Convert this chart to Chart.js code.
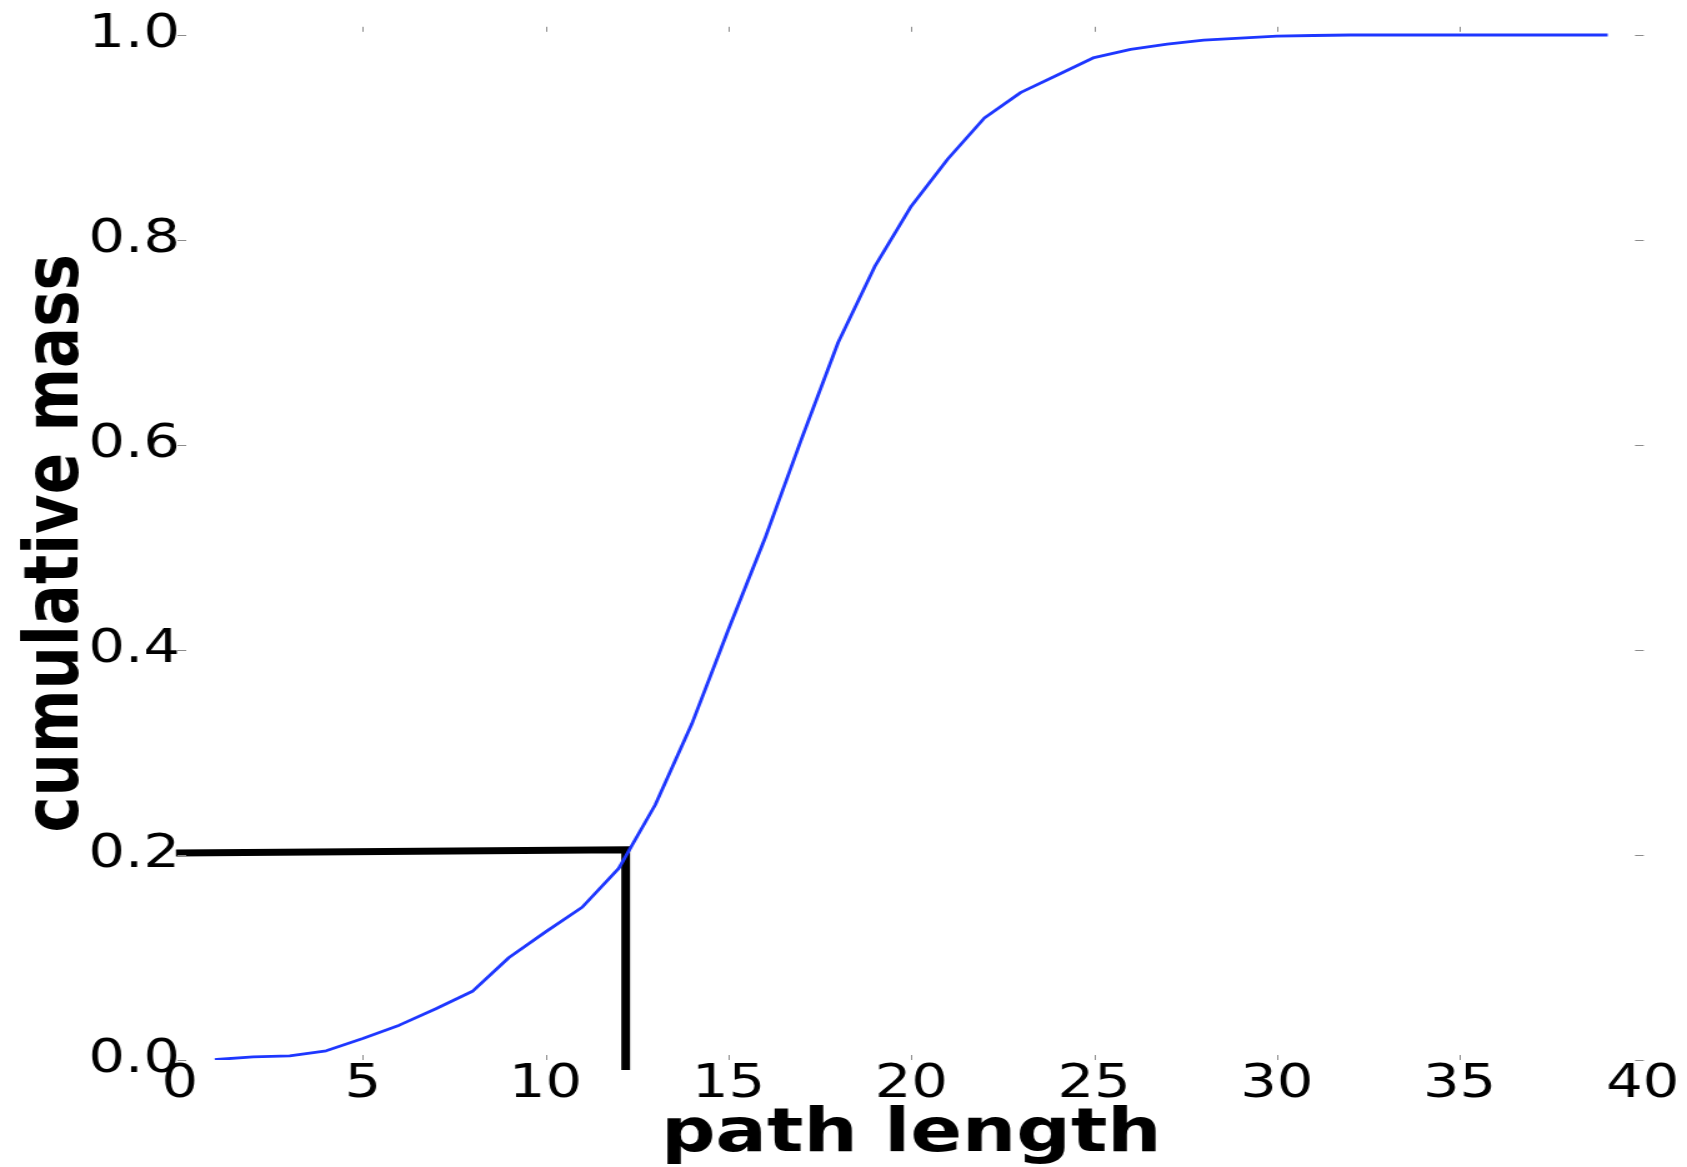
<!DOCTYPE html>
<html>
<head>
<meta charset="utf-8">
<script src="https://cdn.jsdelivr.net/npm/chart.js@4/dist/chart.umd.min.js"></script>
<style>
  html, body { margin: 0; padding: 0; background: #ffffff; overflow: hidden; }
  /* the figure is laid out on a narrower canvas and widened horizontally */
  #wrap { width: 1350px; height: 1167px; transform: scaleX(1.24963); transform-origin: 0 0; }
  canvas { display: block; }
</style>
</head>
<body>
<div id="wrap"><canvas id="chart" width="1350" height="1167"></canvas></div>
<script>
// Cumulative distribution of path lengths
const pathLengths = [1, 2, 3, 4, 5, 6, 7, 8, 9, 10, 11, 12, 13, 14, 15, 16, 17, 18, 19, 20,
                     21, 22, 23, 24, 25, 26, 27, 28, 29, 30, 31, 32, 33, 34, 35, 36, 37, 38, 39];
const cumulativeMass = [0.0005, 0.003, 0.004, 0.009, 0.021, 0.034, 0.050, 0.067, 0.100, 0.125,
                        0.149, 0.187, 0.249, 0.328, 0.420, 0.509, 0.606, 0.700, 0.774, 0.833,
                        0.879, 0.919, 0.944, 0.961, 0.978, 0.986, 0.991, 0.995, 0.997, 0.999,
                        0.9995, 1.0, 1.0, 1.0, 1.0, 1.0, 1.0, 1.0, 1.0];

// Marker: 20% of the mass is reached at a path length of about 12
const markerX = [-0.11, 12.19, 12.19];
const markerY = [0.202, 0.205, -0.0098];

const xTickValues = [0, 5, 10, 15, 20, 25, 30, 35, 40];
const yTickValues = [0.0, 0.2, 0.4, 0.6, 0.8, 1.0];
const xInnerTicks = [5, 10, 15, 20, 25, 30, 35];

const toPoints = (xs, ys) => xs.map((x, i) => ({ x: x, y: ys[i] }));

// small grey tick marks pointing into the plot on all four sides
const innerTicks = {
  id: 'innerTicks',
  afterDatasetsDraw(chart) {
    const { ctx, chartArea: a, scales: { x, y } } = chart;
    ctx.save();
    ctx.strokeStyle = '#8c8c8c';
    ctx.lineWidth = 1;
    ctx.beginPath();
    xInnerTicks.forEach(v => {
      const px = Math.round(x.getPixelForValue(v)) + 0.5;
      ctx.moveTo(px, a.top); ctx.lineTo(px, a.top + 5);
      ctx.moveTo(px, a.bottom); ctx.lineTo(px, a.bottom - 5);
    });
    yTickValues.forEach(v => {
      const py = Math.round(y.getPixelForValue(v)) + 0.5;
      ctx.moveTo(a.left - 2, py); ctx.lineTo(a.left + 5, py);
      ctx.moveTo(a.right + 1, py); ctx.lineTo(a.right - 6, py);
    });
    ctx.stroke();
    ctx.restore();
  }
};

Chart.defaults.font.family = "'DejaVu Sans', sans-serif";
Chart.defaults.color = '#000000';

new Chart(document.getElementById('chart'), {
  type: 'line',
  data: {
    datasets: [
      {
        label: 'cumulative mass',
        data: toPoints(pathLengths, cumulativeMass),
        borderColor: 'rgb(30, 55, 255)',
        borderWidth: 2.8,
        borderJoinStyle: 'round',
        borderCapStyle: 'square',
        pointRadius: 0,
        tension: 0,
        fill: false
      },
      {
        label: 'marker',
        data: toPoints(markerX, markerY),
        borderColor: '#000000',
        borderWidth: 7,
        borderJoinStyle: 'miter',
        borderCapStyle: 'butt',
        pointRadius: 0,
        tension: 0,
        fill: false,
        clip: false
      }
    ]
  },
  options: {
    responsive: false,
    devicePixelRatio: 1,
    animation: false,
    events: [],
    layout: { padding: { left: 0, right: 35.6, top: 26.8, bottom: 0 } },
    plugins: { legend: { display: false }, tooltip: { enabled: false } },
    scales: {
      x: {
        type: 'linear',
        position: 'bottom',
        min: 0,
        max: 40,
        grid: { display: false, drawTicks: false },
        border: { display: false },
        afterBuildTicks: s => { s.ticks = xTickValues.map(v => ({ value: v })); },
        afterFit: s => { s.height = 107; },
        ticks: {
          autoSkip: false,
          maxRotation: 0,
          padding: 2,
          font: { size: 46, lineHeight: 1.0 },
          color: '#000000',
          callback: v => String(v)
        },
        title: {
          display: true,
          text: 'path length',
          color: '#000000',
          font: { size: 61, weight: 'bold', lineHeight: 1.0 },
          padding: { top: 0, bottom: 1.3 }
        }
      },
      y: {
        type: 'linear',
        min: 0,
        max: 1.008,
        grid: { display: false, drawTicks: false },
        border: { display: false },
        afterBuildTicks: s => { s.ticks = yTickValues.map(v => ({ value: v })); },
        afterFit: s => { s.width = 144; },
        ticks: {
          autoSkip: false,
          padding: 0,
          font: { size: 46, lineHeight: 1.0 },
          color: '#000000',
          callback: v => Number(v).toFixed(1)
        },
        title: {
          display: true,
          text: 'cumulative mass',
          color: '#000000',
          font: { size: 61, weight: 'bold', lineHeight: 1.0 },
          padding: { top: 15.4, bottom: 0 }
        }
      }
    }
  },
  plugins: [innerTicks]
});
</script>
</body>
</html>
